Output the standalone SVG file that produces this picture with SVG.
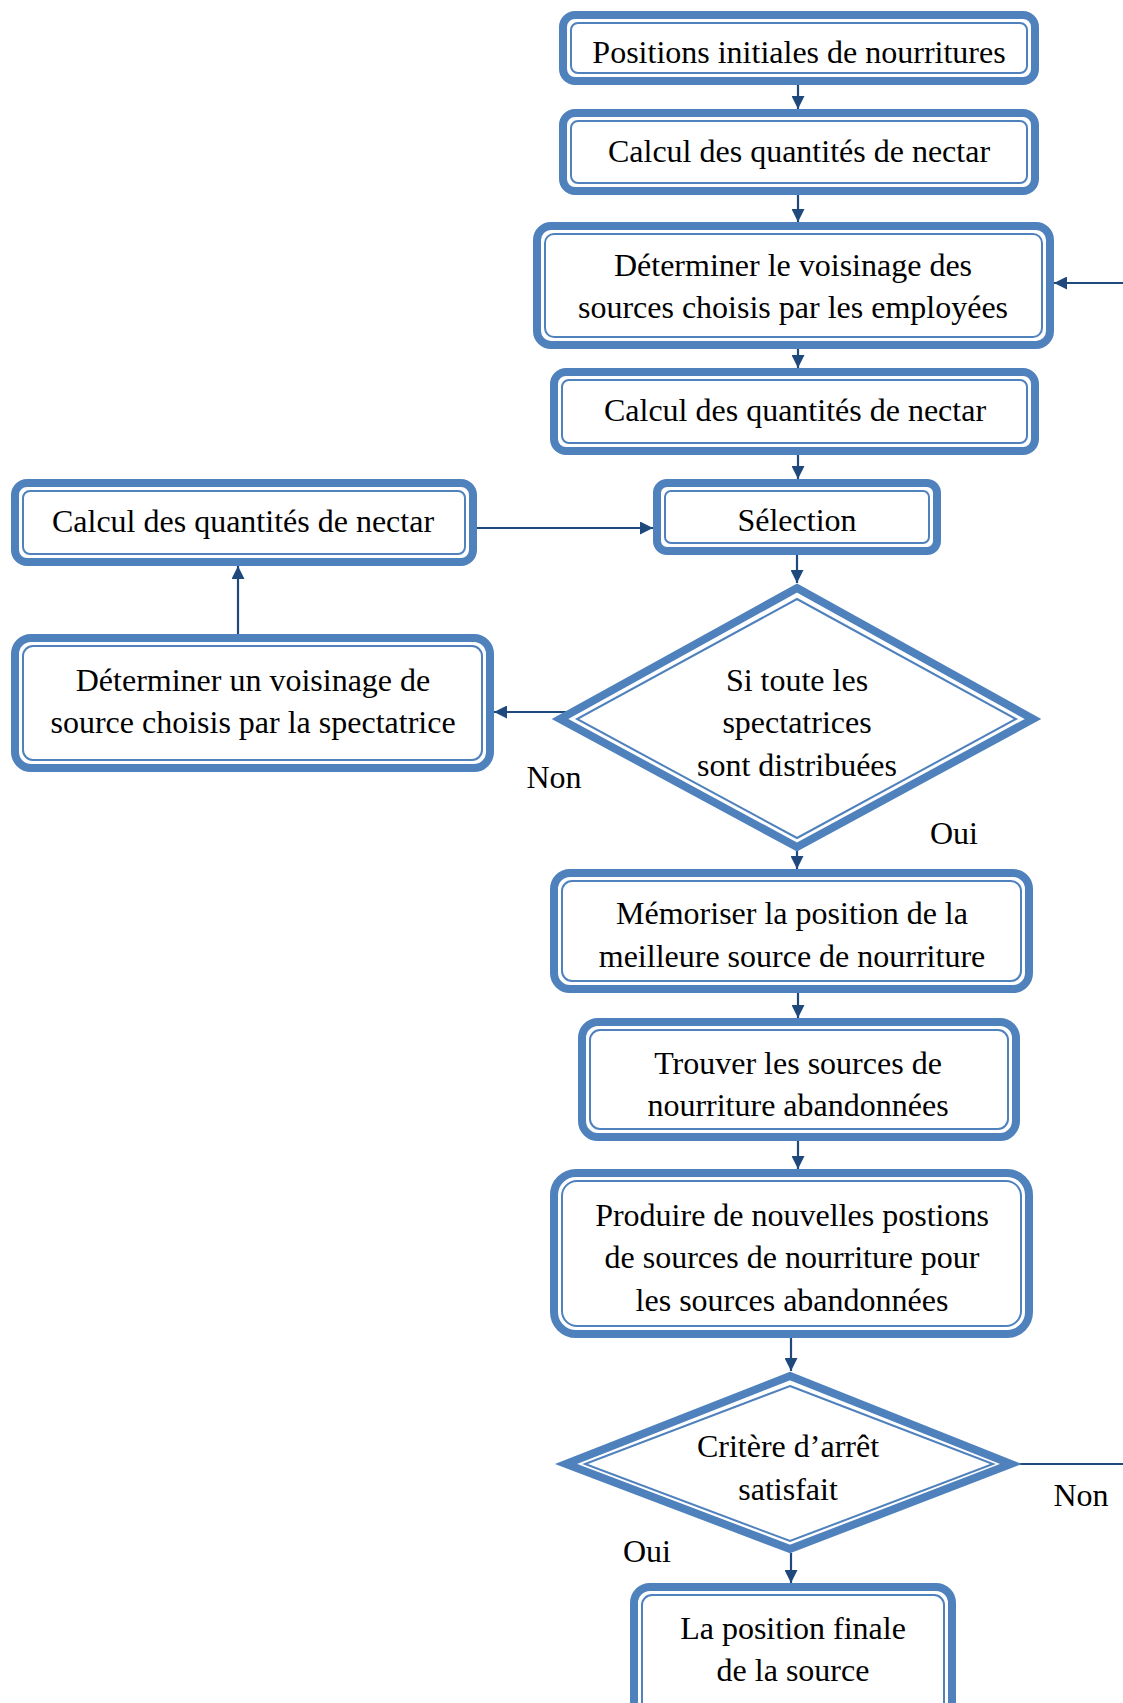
<svg xmlns="http://www.w3.org/2000/svg" width="1123" height="1703" viewBox="0 0 1123 1703">
<defs>
<style>
.o{fill:#fff;stroke:#4F81BD;stroke-width:8}
.i{fill:none;stroke:#4F81BD;stroke-width:2}
.t{font-family:"Liberation Serif","Times New Roman",serif;font-size:32px;fill:#000;text-anchor:middle}
.c{fill:none;stroke:#1F497D;stroke-width:2.2}
.a{marker-end:url(#ah)}
</style>
<marker id="ah" viewBox="0 0 13 13" markerUnits="userSpaceOnUse" markerWidth="13" markerHeight="13" refX="13" refY="6.5" orient="auto">
<path d="M0,0 L13,6.5 L0,13 z" fill="#1F497D"/>
</marker>
</defs>
<rect width="1123" height="1703" fill="#fff"/>
<g id="connectors">
<line class="c a" x1="798" y1="85" x2="798" y2="109"/>
<line class="c a" x1="798" y1="195" x2="798" y2="222"/>
<line class="c a" x1="798" y1="349" x2="798" y2="368"/>
<line class="c a" x1="798" y1="455" x2="798" y2="479"/>
<line class="c a" x1="797" y1="555" x2="797" y2="583"/>
<line class="c a" x1="575" y1="712" x2="494" y2="712"/>
<line class="c a" x1="238" y1="634" x2="238" y2="566"/>
<line class="c a" x1="477" y1="528" x2="653" y2="528"/>
<line class="c a" x1="797" y1="850" x2="797" y2="869"/>
<line class="c a" x1="798" y1="993" x2="798" y2="1018"/>
<line class="c a" x1="798" y1="1141" x2="798" y2="1169"/>
<line class="c a" x1="791" y1="1338" x2="791" y2="1371"/>
<line class="c a" x1="791" y1="1553" x2="791" y2="1583"/>
<line class="c" x1="1018" y1="1464" x2="1123" y2="1464"/>
<line class="c a" x1="1123" y1="283" x2="1054" y2="283"/>
</g>
<g id="n1">
<rect class="o" x="563" y="15" width="472" height="66" rx="12"/>
<rect class="i" x="571" y="23" width="456" height="50" rx="7"/>
<text class="t" x="799" y="63">Positions initiales de nourritures</text>
</g>
<g id="n2">
<rect class="o" x="563" y="113" width="472" height="78" rx="12"/>
<rect class="i" x="571" y="121" width="456" height="62" rx="7"/>
<text class="t" x="799" y="162">Calcul des quantités de nectar</text>
</g>
<g id="n3">
<rect class="o" x="537" y="226" width="513" height="119" rx="14"/>
<rect class="i" x="545" y="234" width="497" height="103" rx="9"/>
<text class="t" x="793" y="276">Déterminer le voisinage des</text>
<text class="t" x="793" y="318">sources choisis par les employées</text>
</g>
<g id="n4">
<rect class="o" x="554" y="372" width="481" height="79" rx="12"/>
<rect class="i" x="562" y="380" width="465" height="63" rx="7"/>
<text class="t" x="795" y="421">Calcul des quantités de nectar</text>
</g>
<g id="n5">
<rect class="o" x="657" y="483" width="280" height="68" rx="10"/>
<rect class="i" x="665" y="491" width="264" height="52" rx="6"/>
<text class="t" x="797" y="531">Sélection</text>
</g>
<g id="n6">
<rect class="o" x="15" y="483" width="458" height="79" rx="12"/>
<rect class="i" x="23" y="491" width="442" height="63" rx="7"/>
<text class="t" x="243" y="532">Calcul des quantités de nectar</text>
</g>
<g id="n7">
<rect class="o" x="15" y="638" width="475" height="130" rx="16"/>
<rect class="i" x="23" y="646" width="459" height="114" rx="10"/>
<text class="t" x="253" y="691">Déterminer un voisinage de</text>
<text class="t" x="253" y="733">source choisis par la spectatrice</text>
</g>
<g id="n8">
<polygon class="o" points="797,588 1033,719 797,847 560,719"/>
<polygon class="i" points="797,599 1016,719 797,838 577,719"/>
<text class="t" x="797" y="691">Si toute les</text>
<text class="t" x="797" y="733">spectatrices</text>
<text class="t" x="797" y="776">sont distribuées</text>
</g>
<text class="t" x="554" y="788">Non</text>
<text class="t" x="954" y="844">Oui</text>
<g id="n9">
<rect class="o" x="554" y="873" width="475" height="116" rx="16"/>
<rect class="i" x="562" y="881" width="459" height="100" rx="10"/>
<text class="t" x="792" y="924">Mémoriser la position de la</text>
<text class="t" x="792" y="967">meilleure source de nourriture</text>
</g>
<g id="n10">
<rect class="o" x="582" y="1022" width="434" height="115" rx="16"/>
<rect class="i" x="590" y="1030" width="418" height="99" rx="10"/>
<text class="t" x="798" y="1074">Trouver les sources de</text>
<text class="t" x="798" y="1116">nourriture abandonnées</text>
</g>
<g id="n11">
<rect class="o" x="554" y="1173" width="475" height="161" rx="22"/>
<rect class="i" x="562" y="1181" width="459" height="145" rx="15"/>
<text class="t" x="792" y="1226">Produire de nouvelles postions</text>
<text class="t" x="792" y="1268">de sources de nourriture pour</text>
<text class="t" x="792" y="1311">les sources abandonnées</text>
</g>
<g id="n12">
<polygon class="o" points="790,1376 1011,1464 790,1549 566,1464"/>
<polygon class="i" points="790,1386 993,1464 790,1541 585,1464"/>
<text class="t" x="788" y="1457">Critère d’arrêt</text>
<text class="t" x="788" y="1500">satisfait</text>
</g>
<text class="t" x="1081" y="1506">Non</text>
<text class="t" x="647" y="1562">Oui</text>
<g id="n13">
<rect class="o" x="634" y="1587" width="318" height="140" rx="16"/>
<rect class="i" x="642" y="1595" width="302" height="124" rx="10"/>
<text class="t" x="793" y="1639">La position finale</text>
<text class="t" x="793" y="1681">de la source</text>
</g>
</svg>
